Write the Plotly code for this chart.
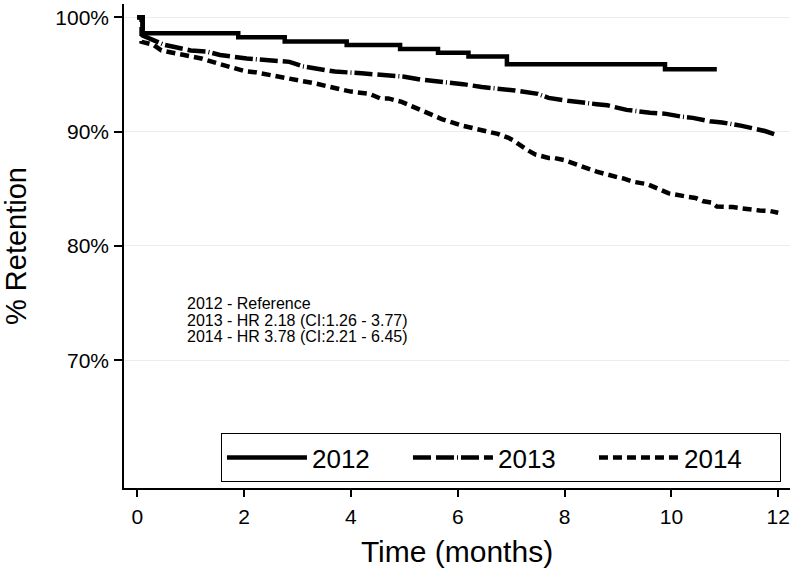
import plotly.graph_objects as go

# ---- data ----
series_names = ["2012", "2013", "2014"]

t2012 = [0, 0.1, 1.89, 2.76, 3.92, 4.92, 5.63, 6.2, 6.92, 9.88, 10.85]
s2012 = [100, 98.6, 98.25, 97.87, 97.58, 97.23, 96.9, 96.56, 95.89, 95.45, 95.45]

t2013 = [0, 0.1, 0.1, 0.3, 0.5, 0.7, 1.0, 1.3, 1.55, 2.05, 2.35, 2.85, 3.1, 3.4, 3.7, 4.2,
         4.5, 4.85, 5.0, 5.3, 5.6, 5.95, 6.1, 6.45, 6.7, 7.07, 7.5, 7.7, 8.06, 8.2, 8.6,
         8.8, 9.16, 9.6, 9.9, 10.2, 10.4, 10.72, 10.95, 11.32, 11.5, 11.75, 11.97]
s2013 = [100, 100, 98.4, 98.0, 97.6, 97.4, 97.1, 97.0, 96.7, 96.4, 96.25, 96.1, 95.7, 95.5,
         95.25, 95.1, 95.0, 94.85, 94.8, 94.55, 94.4, 94.25, 94.15, 93.9, 93.8, 93.6, 93.3,
         92.95, 92.7, 92.6, 92.4, 92.3, 91.9, 91.65, 91.55, 91.3, 91.2, 90.9, 90.8, 90.5,
         90.35, 90.05, 89.7]

t2014 = [0, 0.08, 0.08, 0.3, 0.45, 0.7, 1.0, 1.2, 1.55, 1.8, 2.0, 2.2, 2.45, 2.7, 2.9, 3.05,
         3.3, 3.5, 3.8, 4.0, 4.35, 4.55, 4.7, 4.95, 5.15, 5.35, 5.6, 5.7, 6.1, 6.25, 6.55,
         6.75, 6.95, 7.05, 7.3, 7.45, 7.7, 7.8, 8.0, 8.1, 8.3, 8.6, 8.8, 9.0, 9.1, 9.3, 9.55,
         9.65, 9.85, 9.95, 10.3, 10.45, 10.6, 10.75, 10.85, 11.0, 11.15, 11.3, 11.5, 11.65,
         11.85, 12.0]
s2014 = [100, 100, 97.85, 97.6, 97.1, 96.9, 96.6, 96.4, 95.9, 95.6, 95.3, 95.2, 94.95, 94.8,
         94.5, 94.45, 94.25, 94.0, 93.7, 93.5, 93.3, 92.9, 92.9, 92.6, 92.2, 91.9, 91.3, 91.1,
         90.5, 90.35, 90.0, 89.8, 89.45, 89.2, 88.4, 88.0, 87.7, 87.7, 87.5, 87.3, 87.0, 86.5,
         86.2, 86.0, 85.9, 85.6, 85.4, 85.2, 84.7, 84.6, 84.3, 84.2, 83.9, 83.8, 83.45, 83.45,
         83.4, 83.3, 83.15, 83.1, 83.05, 82.9]

y_ticks = [70, 80, 90, 100]
y_tick_labels = ["70%", "80%", "90%", "100%"]
x_ticks = [0, 2, 4, 6, 8, 10, 12]

hr_notes = ["2012 - Reference",
            "2013 - HR 2.18 (CI:1.26 - 3.77)",
            "2014 - HR 3.78 (CI:2.21 - 6.45)"]

FONT = "Liberation Sans, Arial, sans-serif"

fig = go.Figure()
fig.add_trace(go.Scatter(x=t2012, y=s2012, mode="lines", name=series_names[0],
                         line=dict(color="black", width=4.5, shape="hv")))
fig.add_trace(go.Scatter(x=t2013, y=s2013, mode="lines", name=series_names[1],
                         line=dict(color="black", width=4.5,
                                   dash="18px,5px,18px,3px,1px,3px")))
fig.add_trace(go.Scatter(x=t2014, y=s2014, mode="lines", name=series_names[2],
                         line=dict(color="black", width=4.5, dash="9px,5px")))

note_y = [0.3822, 0.3457, 0.3126]
for txt, yy in zip(hr_notes, note_y):
    fig.add_annotation(text=txt, xref="paper", yref="paper", x=0.0916, y=yy,
                       xanchor="left", yanchor="middle", showarrow=False,
                       font=dict(family=FONT, size=16, color="black"))

fig.update_layout(
    width=796, height=569,
    margin=dict(l=124, r=6, t=4, b=81),
    paper_bgcolor="white", plot_bgcolor="white",
    font=dict(family=FONT, color="black"),
    showlegend=True,
    legend=dict(orientation="h", x=0.1456, y=0.1136, xanchor="left", yanchor="top",
                bgcolor="white", bordercolor="black", borderwidth=1,
                font=dict(family=FONT, size=26, color="black"),
                itemwidth=80, entrywidth=91, entrywidthmode="pixels",
                itemclick=False),
    xaxis=dict(range=[-0.249, 12.22], tickvals=x_ticks, showgrid=False, zeroline=False,
               automargin=False,
               showline=True, linecolor="black", linewidth=1.5,
               ticks="outside", ticklen=7, tickwidth=1.5, tickcolor="black",
               tickfont=dict(family=FONT, size=21), ticklabelstandoff=2,
               title=dict(text="Time (months)", font=dict(family=FONT, size=30), standoff=14)),
    yaxis=dict(range=[58.83, 101.16], tickvals=y_ticks, ticktext=y_tick_labels,
               automargin=False,
               showgrid=True, gridcolor="#e6eef0", gridwidth=1, zeroline=False,
               showline=True, linecolor="black", linewidth=1.5,
               ticks="outside", ticklen=8, tickwidth=1.5, tickcolor="black",
               tickfont=dict(family=FONT, size=21), ticklabelstandoff=1,
               title=dict(text="% Retention", font=dict(family=FONT, size=29), standoff=32)),
)

# remove the browser's default page margin so the figure sits at the window corner
fig.write_html("out.html", config={"displayModeBar": False},
               post_script="document.body.style.margin='0px';")
